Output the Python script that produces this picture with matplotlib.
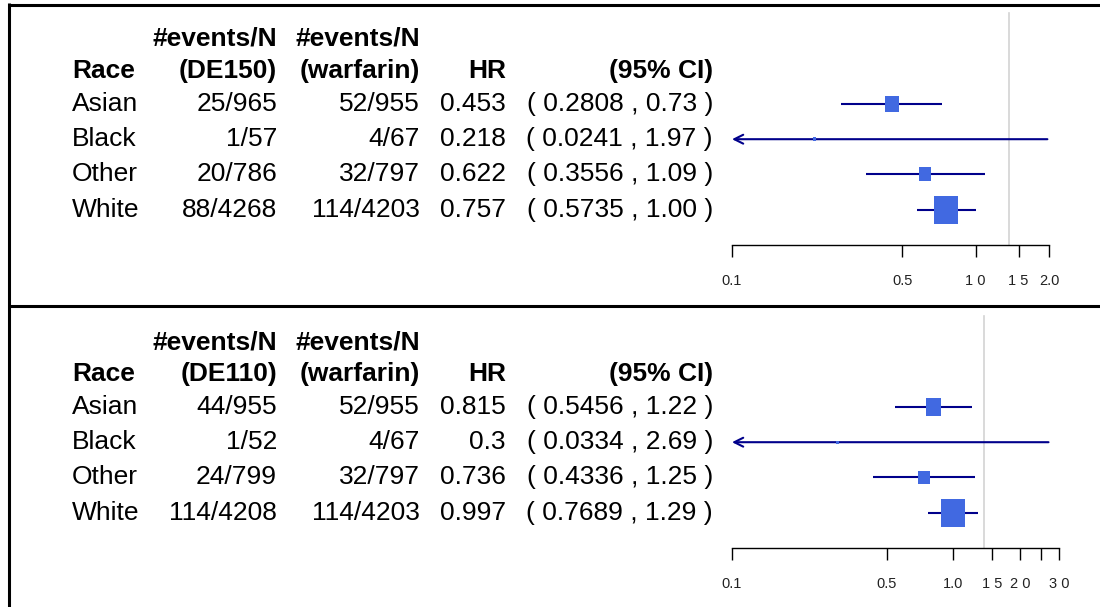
import matplotlib
matplotlib.use("Agg")
import numpy as np
import matplotlib.pyplot as plt
from matplotlib.path import Path
from matplotlib.lines import Line2D
from matplotlib.transforms import blended_transform_factory

plt.rcParams['font.family'] = ['Liberation Sans', 'DejaVu Sans']

races = ["Asian", "Black", "Other", "White"]

# DE150 vs warfarin
de150_events = [25, 1, 20, 88]
de150_n = [965, 57, 786, 4268]
warf150_events = [52, 4, 32, 114]
warf150_n = [955, 67, 797, 4203]
hr150 = [0.453, 0.218, 0.622, 0.757]
lo150 = [0.2808, 0.0241, 0.3556, 0.5735]
hi150 = [0.73, 1.97, 1.09, 1.00]
ticks150 = [0.1, 0.5, 1.0, 1.5, 2.0]
ticklabels150 = ["0.1", "0.5", "1 0", "1 5", "2.0"]

# DE110 vs warfarin
de110_events = [44, 1, 24, 114]
de110_n = [955, 52, 799, 4208]
warf110_events = [52, 4, 32, 114]
warf110_n = [955, 67, 797, 4203]
hr110 = [0.815, 0.3, 0.736, 0.997]
lo110 = [0.5456, 0.0334, 0.4336, 0.7689]
hi110 = [1.22, 2.69, 1.25, 1.29]
ticks110 = [0.1, 0.5, 1.0, 1.5, 2.0, 2.5, 3.0]
ticklabels110 = ["0.1", "0.5", "1.0", "1 5", "2 0", "", "3 0"]

ref_line = 1.37

W, H = 1100, 607
fig = plt.figure(figsize=(W / 100, H / 100), dpi=100)

ROW = 35.2            # pixels per table row
FS = 19               # table font size
BOX_COLOR = "#4169E1"
LINE_COLOR = "#00008B"

box_path = Path([(-0.43, -0.5), (0.43, -0.5), (0.43, 0.5), (-0.43, 0.5), (-0.43, -0.5)],
                [Path.MOVETO, Path.LINETO, Path.LINETO, Path.LINETO, Path.CLOSEPOLY])


def panel(oy, right_px, arm, ev, n, wev, wn, hr, lo, hi, ticks, labels):
    axis_px = 245 + oy
    top_px = 10 + oy
    ax = fig.add_axes([732 / W, 1 - axis_px / H, (right_px - 732) / W, (axis_px - top_px) / H])
    ax.set_xscale("log")
    xmin, xmax = ticks[0], ticks[-1]
    ax.set_xlim(xmin, xmax)
    y_bottom = 1 + (245 - 104) / ROW
    y_top = 1 - (104 - 10) / ROW
    ax.set_ylim(y_bottom, y_top)
    ax.patch.set_alpha(0)
    for s in ("top", "left", "right"):
        ax.spines[s].set_visible(False)
    ax.spines["bottom"].set_linewidth(1.0)
    ax.set_yticks([])
    ax.xaxis.set_minor_locator(matplotlib.ticker.NullLocator())
    ax.set_xticks(ticks)
    ax.set_xticklabels(labels, fontsize=10.5, color="#222222")
    ax.tick_params(axis="x", direction="out", length=8.6, width=1.0, pad=12)

    rows = np.arange(1, len(races) + 1)
    hr = np.asarray(hr)
    lo = np.asarray(lo)
    hi = np.asarray(hi)

    # reference line
    ax.plot([ref_line, ref_line], [1 - (104 - 13) / ROW, y_bottom], color="#d3d3d3",
            lw=1.2, zorder=1, clip_on=False)

    # confidence intervals
    for y, l, h in zip(rows, lo, hi):
        x0 = max(l, xmin)
        x1 = min(h, xmax)
        if l < xmin:
            ax.annotate("", xy=(xmin, y), xytext=(x1, y),
                        arrowprops=dict(arrowstyle="->", color=LINE_COLOR, lw=1.5,
                                        shrinkA=0, shrinkB=0, mutation_scale=16),
                        annotation_clip=False, zorder=2)
        else:
            ax.plot([x0, x1], [y, y], color=LINE_COLOR, lw=1.5, zorder=2,
                    solid_capstyle="butt")

    # boxes sized by precision
    info = 1.0 / (np.log(hi) - np.log(lo))
    wt = info / info.max()
    ms = 28 * 0.72 * wt
    ax.scatter(hr, rows, s=ms ** 2, marker=box_path, color=BOX_COLOR, zorder=3,
               linewidths=0, clip_on=False)

    # table text
    tr = blended_transform_factory(fig.transFigure, ax.transData)
    h1 = 1 - (104 - 39) / ROW
    h2 = 1 - (104 - 71) / ROW
    bold = dict(fontsize=FS, fontweight="bold", va="center", transform=tr)
    norm = dict(fontsize=FS, va="center", transform=tr)
    ax.text(72 / W, h2, "Race", ha="left", **bold)
    ax.text(277 / W, h1, "#events/N", ha="right", **bold)
    ax.text(277 / W, h2, f"({arm})", ha="right", **bold)
    ax.text(420 / W, h1, "#events/N", ha="right", **bold)
    ax.text(420 / W, h2, "(warfarin)", ha="right", **bold)
    ax.text(506 / W, h2, "HR", ha="right", **bold)
    ax.text(713 / W, h2, "(95% CI)", ha="right", **bold)
    for y, r, e, nn, we, wnn, v, l, h in zip(rows, races, ev, n, wev, wn, hr, lo, hi):
        ax.text(72 / W, y, r, ha="left", **norm)
        ax.text(277 / W, y, f"{e}/{nn}", ha="right", **norm)
        ax.text(420 / W, y, f"{we}/{wnn}", ha="right", **norm)
        ax.text(506 / W, y, f"{v:g}", ha="right", **norm)
        ax.text(713 / W, y, f"( {l:.4f} , {h:.2f} )", ha="right", **norm)
    return ax


panel(0, 1049, "DE150", de150_events, de150_n, warf150_events, warf150_n,
      hr150, lo150, hi150, ticks150, ticklabels150)
panel(303, 1059, "DE110", de110_events, de110_n, warf110_events, warf110_n,
      hr110, lo110, hi110, ticks110, ticklabels110)

# panel frames
frame = dict(color="black", lw=2.2, transform=fig.transFigure, solid_capstyle="butt")
fig.add_artist(Line2D([8.5 / W, 8.5 / W], [0, 1 - 3 / H], **frame))
fig.add_artist(Line2D([7.5 / W, 1], [1 - 4.5 / H, 1 - 4.5 / H], **frame))
fig.add_artist(Line2D([7.5 / W, 1], [1 - 306 / H, 1 - 306 / H], **frame))

fig.savefig("out.png", dpi=100)
